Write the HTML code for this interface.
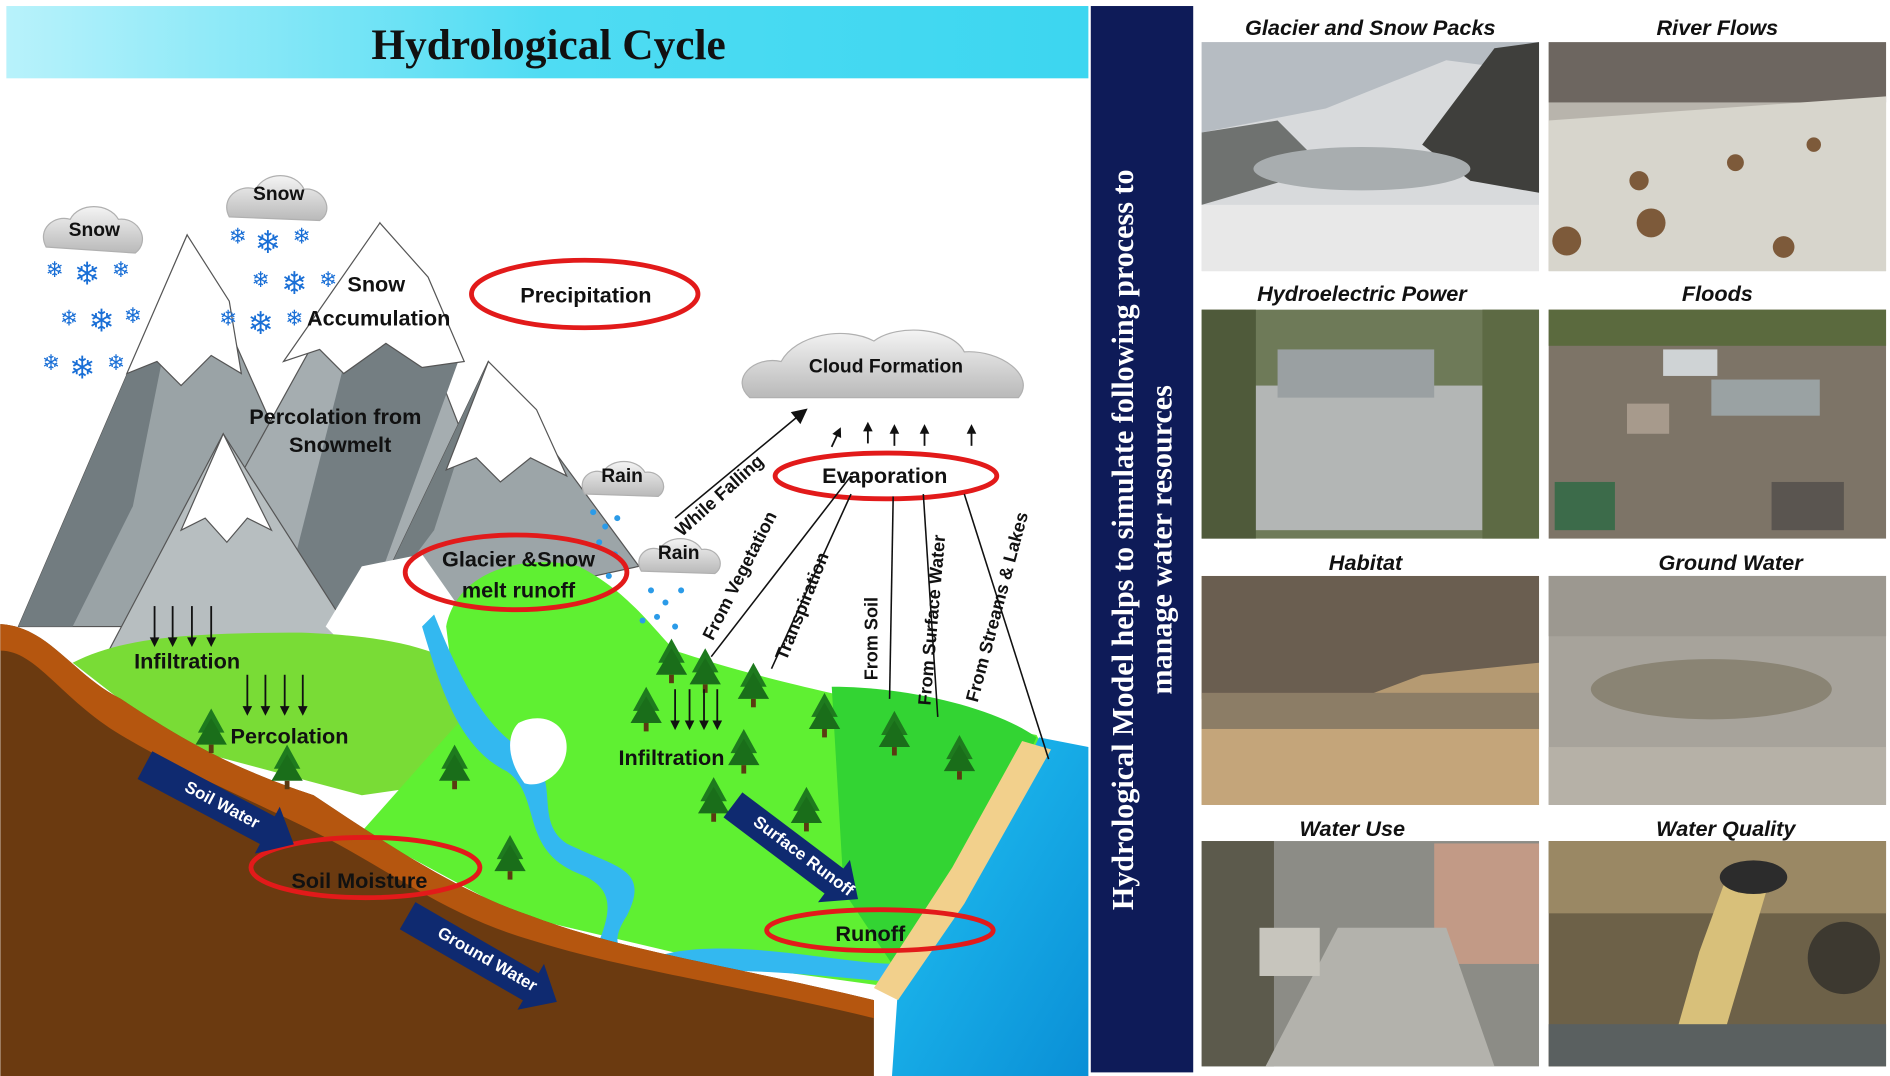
<!DOCTYPE html>
<html><head><meta charset="utf-8"><style>
html,body{margin:0;padding:0;background:#fff;}
svg{display:block;}
.l{font-family:"Liberation Sans",sans-serif;font-weight:bold;fill:#111;}
.p{font-family:"Liberation Sans",sans-serif;font-weight:bold;font-style:italic;fill:#111;font-size:18px;}
</style></head><body>
<svg width="1890" height="1076" viewBox="0 0 1568 893" xmlns="http://www.w3.org/2000/svg">
<defs>
<linearGradient id="tg" x1="0" x2="1"><stop offset="0" stop-color="#b8f2fb"/><stop offset="0.5" stop-color="#4fdcf3"/><stop offset="1" stop-color="#3cd6f0"/></linearGradient>
<linearGradient id="cg" x1="0" y1="0" x2="0" y2="1"><stop offset="0" stop-color="#f4f4f4"/><stop offset="1" stop-color="#b9b9b9"/></linearGradient>
<linearGradient id="sea" x1="0" y1="0" x2="1" y2="1"><stop offset="0" stop-color="#22c4f4"/><stop offset="1" stop-color="#0a8fd6"/></linearGradient>
<g id="tree"><polygon points="0,-22 -11,-2 11,-2" fill="#1e7a1e"/><polygon points="0,-14 -13,8 13,8" fill="#1a6e1a"/><rect x="-2" y="8" width="4" height="7" fill="#5a3a12"/></g>
<g id="dn"><line x1="0" y1="0" x2="0" y2="28" stroke="#111" stroke-width="1.5"/><polygon points="-4,26 4,26 0,34" fill="#111"/></g>
<g id="up"><line x1="0" y1="0" x2="0" y2="12" stroke="#111" stroke-width="1.5"/><polygon points="-4,2 4,2 0,-6" fill="#111"/></g>
</defs>
<rect width="1568" height="893" fill="#fff"/>
<rect x="5" y="5" width="898" height="60" fill="url(#tg)"/>
<text x="455" y="49" text-anchor="middle" font-family="Liberation Serif,serif" font-weight="bold" font-size="36" fill="#111">Hydrological Cycle</text>

<!-- mountains -->
<g stroke="#555" stroke-width="1">
<polygon points="15,520 155,195 300,520" fill="#9aa3a6"/>
<polygon points="15,520 155,195 110,420 60,520" fill="#727c80" stroke="none"/>
<polygon points="130,520 315,185 430,480" fill="#a5adb0"/>
<polygon points="230,520 315,185 380,300 300,520" fill="#747e82" stroke="none"/>
<polygon points="300,520 405,300 530,470" fill="#9ca5a8"/>
<polygon points="300,520 405,300 360,440" fill="#737d80" stroke="none"/>
<polygon points="90,540 185,360 300,540" fill="#b7bec0"/>
<polygon points="155,195 105,310 130,300 150,320 175,295 200,310 190,250" fill="#fff"/>
<polygon points="315,185 235,300 265,290 285,310 320,285 350,305 385,300 355,230" fill="#fff"/>
<polygon points="405,300 370,390 395,380 415,400 440,380 470,395 445,340" fill="#fff"/>
<polygon points="185,360 150,440 170,430 188,450 205,430 225,440" fill="#fff"/>
</g>
<polygon points="270,520 300,470 350,460 385,510 370,550 300,550" fill="#fff"/>

<!-- green land -->
<path d="M60,550 C100,530 150,525 250,525 C330,528 380,540 420,580 L440,640 L300,660 L150,620 Z" fill="#79dc36"/>
<path d="M370,520 C380,470 440,460 480,470 C520,490 540,520 560,540 C620,560 700,580 860,610 L870,630 L745,820 L600,800 L430,760 L300,690 L380,600 Z" fill="#5ff032"/>
<path d="M690,570 C760,570 830,590 860,612 L820,700 L740,800 L700,740 Z" fill="#33d433"/>
<path d="M360,510 C380,560 400,600 430,620 C470,640 440,680 470,700 C510,720 540,720 520,760 C500,790 520,800 560,790 C620,780 700,800 745,800 L740,815 C680,810 600,800 540,810 L490,800 C500,770 520,740 480,725 C430,705 450,660 420,640 C380,620 365,570 350,520 Z" fill="#33b8f0"/>
<path d="M430,600 C450,590 470,600 470,620 C470,640 450,655 435,650 C420,630 420,610 430,600 Z" fill="#fff"/>
<path d="M0,518 C40,520 60,560 100,580 C160,620 200,640 260,660 C320,700 380,740 440,760 C520,790 600,800 725,830 L725,893 L0,893 Z" fill="#6b3a10"/>
<path d="M0,518 C40,520 60,560 100,580 C160,620 200,640 260,660 C320,700 380,740 440,760 C520,790 600,800 725,830 L725,845 C600,815 520,805 440,780 C370,760 320,720 260,690 C200,660 150,640 100,610 C50,580 30,540 0,540 Z" fill="#b5560f"/>
<polygon points="862,612 903,620 903,893 740,893 745,820 820,700" fill="url(#sea)"/>
<polygon points="848,615 872,622 800,750 745,830 725,820 790,720" fill="#f2d08c"/>

<use href="#tree" x="175" y="610"/><use href="#tree" x="238" y="640"/><use href="#tree" x="377" y="640"/><use href="#tree" x="423" y="715"/>
<use href="#tree" x="557" y="552"/><use href="#tree" x="585" y="560"/><use href="#tree" x="625" y="572"/><use href="#tree" x="536" y="592"/>
<use href="#tree" x="617" y="627"/><use href="#tree" x="684" y="597"/><use href="#tree" x="742" y="612"/><use href="#tree" x="796" y="632"/>
<use href="#tree" x="592" y="667"/><use href="#tree" x="669" y="675"/>

<g fill="url(#cg)" stroke="#b0b0b0">
<path d="M38,205 C30,190 45,178 58,182 C65,168 90,168 98,182 C115,180 125,200 112,210 Z"/>
<path d="M190,180 C182,165 198,152 212,157 C220,142 245,142 252,157 C268,155 278,175 265,183 Z"/>
<path d="M622,330 C605,315 625,295 648,300 C660,278 700,270 725,283 C745,268 790,272 800,292 C830,290 860,312 845,330 Z"/>
<path d="M485,410 C478,398 490,388 500,392 C507,380 528,380 535,392 C548,390 556,405 546,412 Z"/>
<path d="M532,474 C525,462 537,452 547,456 C554,444 575,444 582,456 C595,454 603,469 593,476 Z"/>
</g>
<text class="l" x="78" y="196" font-size="16" text-anchor="middle">Snow</text>
<text class="l" x="231" y="166" font-size="16" text-anchor="middle">Snow</text>
<text class="l" x="735" y="309" font-size="16" text-anchor="middle">Cloud Formation</text>
<text class="l" x="516" y="400" font-size="16" text-anchor="middle">Rain</text>
<text class="l" x="563" y="464" font-size="16" text-anchor="middle">Rain</text>
<g font-family="DejaVu Sans,sans-serif" fill="#1a6fd6" text-anchor="middle">
<text x="45" y="230" font-size="18">❄</text><text x="72" y="236" font-size="26">❄</text><text x="100" y="230" font-size="18">❄</text>
<text x="57" y="270" font-size="18">❄</text><text x="84" y="275" font-size="26">❄</text><text x="110" y="268" font-size="18">❄</text>
<text x="42" y="307" font-size="18">❄</text><text x="68" y="314" font-size="26">❄</text><text x="96" y="307" font-size="18">❄</text>
<text x="197" y="202" font-size="18">❄</text><text x="222" y="210" font-size="26">❄</text><text x="250" y="202" font-size="18">❄</text>
<text x="216" y="238" font-size="18">❄</text><text x="244" y="244" font-size="26">❄</text><text x="272" y="238" font-size="18">❄</text>
<text x="189" y="270" font-size="18">❄</text><text x="216" y="277" font-size="26">❄</text><text x="244" y="270" font-size="18">❄</text>
</g>
<g fill="#2b9be8"><circle cx="492" cy="425" r="2.5"/><circle cx="502" cy="437" r="2.5"/><circle cx="512" cy="430" r="2.5"/><circle cx="497" cy="450" r="2.5"/><circle cx="510" cy="460" r="2.5"/><circle cx="505" cy="478" r="2.5"/>
<circle cx="540" cy="490" r="2.5"/><circle cx="552" cy="500" r="2.5"/><circle cx="565" cy="490" r="2.5"/><circle cx="545" cy="512" r="2.5"/><circle cx="560" cy="520" r="2.5"/><circle cx="533" cy="515" r="2.5"/></g>

<text class="l" x="312" y="242" font-size="18" text-anchor="middle">Snow</text>
<text class="l" x="314" y="270" font-size="18" text-anchor="middle">Accumulation</text>
<text class="l" x="278" y="352" font-size="18" text-anchor="middle">Percolation from</text>
<text class="l" x="282" y="375" font-size="18" text-anchor="middle">Snowmelt</text>

<g fill="none" stroke="#e21a1a" stroke-width="4">
<ellipse cx="485" cy="244" rx="94" ry="28"/>
<ellipse cx="735" cy="395" rx="92" ry="19"/>
<ellipse cx="428" cy="475" rx="92" ry="31"/>
<ellipse cx="303" cy="720" rx="95" ry="25"/>
<ellipse cx="730" cy="772" rx="94" ry="17"/>
</g>
<text class="l" x="486" y="251" font-size="18" text-anchor="middle">Precipitation</text>
<text class="l" x="734" y="401" font-size="18" text-anchor="middle">Evaporation</text>
<text class="l" x="430" y="470" font-size="18" text-anchor="middle">Glacier &amp;Snow</text>
<text class="l" x="430" y="496" font-size="18" text-anchor="middle">melt runoff</text>
<text class="l" x="298" y="737" font-size="18" text-anchor="middle">Soil Moisture</text>
<text class="l" x="722" y="781" font-size="18" text-anchor="middle">Runoff</text>

<g stroke="#111" stroke-width="1.3">
<line x1="560" y1="430" x2="665" y2="343"/>
<line x1="590" y1="545" x2="706" y2="395"/>
<line x1="640" y1="555" x2="706" y2="410"/>
<line x1="738" y1="580" x2="741" y2="412"/>
<line x1="778" y1="595" x2="766" y2="410"/>
<line x1="870" y1="630" x2="800" y2="410"/>
</g>
<polygon points="670,339 656,342 664,352" fill="#111"/>
<use href="#up" x="695" y="360" transform="rotate(25 695 360)"/>
<use href="#up" x="720" y="356"/><use href="#up" x="742" y="358"/><use href="#up" x="767" y="358"/><use href="#up" x="806" y="358"/>
<g class="l" font-size="15">
<text transform="translate(600,415) rotate(-42)" text-anchor="middle">While Falling</text>
<text transform="translate(618,480) rotate(-63)" text-anchor="middle">From Vegetation</text>
<text transform="translate(670,505) rotate(-68)" text-anchor="middle">Transpiration</text>
<text transform="translate(728,530) rotate(-90)" text-anchor="middle">From Soil</text>
<text transform="translate(778,515) rotate(-85)" text-anchor="middle">From Surface Water</text>
<text transform="translate(832,505) rotate(-75)" text-anchor="middle">From Streams &amp; Lakes</text>
</g>

<use href="#dn" x="128" y="503"/><use href="#dn" x="143" y="503"/><use href="#dn" x="159" y="503"/><use href="#dn" x="175" y="503"/>
<use href="#dn" x="205" y="560"/><use href="#dn" x="220" y="560"/><use href="#dn" x="236" y="560"/><use href="#dn" x="251" y="560"/>
<use href="#dn" x="560" y="572"/><use href="#dn" x="572" y="572"/><use href="#dn" x="584" y="572"/><use href="#dn" x="595" y="572"/>
<text class="l" x="155" y="555" font-size="18" text-anchor="middle">Infiltration</text>
<text class="l" x="240" y="617" font-size="18" text-anchor="middle">Percolation</text>
<text class="l" x="557" y="635" font-size="18" text-anchor="middle">Infiltration</text>

<g fill="#0f2a70">
<polygon transform="translate(120,635) rotate(28)" points="0,-13 115,-13 115,-22 140,0 115,22 115,13 0,13"/>
<polygon transform="translate(338,760) rotate(30)" points="0,-13 118,-13 118,-22 143,0 118,22 118,13 0,13"/>
<polygon transform="translate(608,668) rotate(37)" points="0,-13 105,-13 105,-22 130,0 105,22 105,13 0,13"/>
</g>
<g font-family="Liberation Sans,sans-serif" font-weight="bold" fill="#fff" font-size="14" text-anchor="middle">
<text transform="translate(182,672) rotate(28)">Soil Water</text>
<text transform="translate(402,800) rotate(30)">Ground Water</text>
<text transform="translate(664,714) rotate(37)">Surface Runoff</text>
</g>

<rect x="905" y="5" width="85" height="885" fill="#0e1b58"/>
<g font-family="Liberation Serif,serif" font-weight="bold" fill="#fff" font-size="25" text-anchor="middle">
<text transform="translate(940,448) rotate(-90)">Hydrological Model helps to simulate following process to</text>
<text transform="translate(972,448) rotate(-90)">manage water resources</text>
</g>

<text class="p" x="1137" y="29" text-anchor="middle">Glacier and Snow Packs</text>
<text class="p" x="1425" y="29" text-anchor="middle">River Flows</text>
<text class="p" x="1130" y="250" text-anchor="middle">Hydroelectric Power</text>
<text class="p" x="1425" y="250" text-anchor="middle">Floods</text>
<text class="p" x="1133" y="473" text-anchor="middle">Habitat</text>
<text class="p" x="1436" y="473" text-anchor="middle">Ground Water</text>
<text class="p" x="1122" y="694" text-anchor="middle">Water Use</text>
<text class="p" x="1432" y="694" text-anchor="middle">Water Quality</text>

<rect x="997" y="35" width="280" height="190" fill="#d8dadc"/>
<polygon points="997,35 1277,35 1277,60 1200,50 1100,90 997,110" fill="#b6bcc2"/>
<polygon points="1180,120 1240,40 1277,35 1277,160 1220,150" fill="#3f3f3c"/>
<polygon points="997,110 1060,100 1100,140 997,170" fill="#6f7270"/>
<ellipse cx="1130" cy="140" rx="90" ry="18" fill="#a8adaf"/>
<rect x="997" y="170" width="280" height="55" fill="#e8e8e8"/>
<rect x="1285" y="35" width="280" height="190" fill="#b8b4ac"/>
<rect x="1285" y="35" width="280" height="50" fill="#6d6660"/>
<polygon points="1285,100 1565,80 1565,225 1285,225" fill="#d7d5cc"/>
<g fill="#7d5a3a"><circle cx="1360" cy="150" r="8"/><circle cx="1440" cy="135" r="7"/><circle cx="1370" cy="185" r="12"/><circle cx="1300" cy="200" r="12"/><circle cx="1505" cy="120" r="6"/><circle cx="1480" cy="205" r="9"/></g>
<rect x="997" y="257" width="280" height="190" fill="#6e7a58"/>
<rect x="1040" y="320" width="190" height="120" fill="#b3b6b5"/>
<rect x="1060" y="290" width="130" height="40" fill="#9aa0a2"/>
<rect x="997" y="257" width="45" height="190" fill="#4f5a3a"/>
<rect x="1230" y="257" width="47" height="190" fill="#5d6a44"/>
<rect x="1285" y="257" width="280" height="190" fill="#7d7467"/>
<rect x="1285" y="257" width="280" height="30" fill="#5b6a3e"/>
<rect x="1380" y="290" width="45" height="22" fill="#cfd3d5"/>
<rect x="1420" y="315" width="90" height="30" fill="#9aa2a3"/>
<rect x="1290" y="400" width="50" height="40" fill="#3c6b4a"/>
<rect x="1350" y="335" width="35" height="25" fill="#a79a8c"/>
<rect x="1470" y="400" width="60" height="40" fill="#5a5550"/>
<rect x="997" y="478" width="280" height="190" fill="#b59a72"/>
<polygon points="997,478 1277,478 1277,550 1180,560 1100,590 997,580" fill="#6a5e50"/>
<rect x="997" y="575" width="280" height="30" fill="#8c7d66"/>
<rect x="997" y="605" width="280" height="63" fill="#c4a57a"/>
<rect x="1285" y="478" width="280" height="190" fill="#a7a39b"/>
<ellipse cx="1420" cy="572" rx="100" ry="25" fill="#8a8474"/>
<rect x="1285" y="478" width="280" height="50" fill="#9c9890"/>
<rect x="1285" y="620" width="280" height="48" fill="#b6b1a7"/>
<rect x="997" y="698" width="280" height="187" fill="#8c8c86"/>
<rect x="997" y="698" width="60" height="187" fill="#5c5a4c"/>
<rect x="1190" y="700" width="87" height="100" fill="#c29a86"/>
<polygon points="1050,885 1110,770 1200,770 1240,885" fill="#b3b2ac"/>
<rect x="1045" y="770" width="50" height="40" fill="#c7c5bd"/>
<rect x="1285" y="698" width="280" height="187" fill="#6d6148"/>
<rect x="1285" y="698" width="280" height="60" fill="#9a8864"/>
<circle cx="1530" cy="795" r="30" fill="#3d3930"/>
<polygon points="1430,735 1470,725 1430,860 1390,860 1410,790" fill="#d8c07a"/>
<ellipse cx="1455" cy="728" rx="28" ry="14" fill="#2c2c2c"/>
<rect x="1285" y="850" width="280" height="35" fill="#5a6060"/>
</svg>
</body></html>
